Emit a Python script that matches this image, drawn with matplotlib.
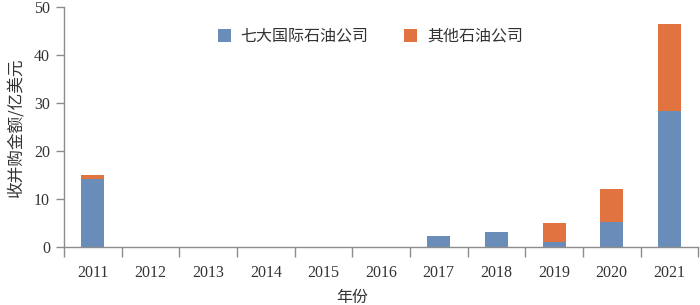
import numpy as np
import matplotlib.pyplot as plt

plt.rcParams['font.family'] = ['Liberation Serif', 'Noto Sans CJK SC', 'DejaVu Sans']

# Data
years = ['2011', '2012', '2013', '2014', '2015', '2016', '2017', '2018', '2019', '2020', '2021']
big7 = [14.1, 0, 0, 0, 0, 0, 2.3, 3.0, 0.9, 5.1, 28.3]
others = [0.8, 0, 0, 0, 0, 0, 0, 0, 4.0, 6.9, 18.2]
series_names = ['七大国际石油公司', '其他石油公司']

blue = '#6a8cb8'
orange = '#e0733f'
axis_col = '#8c8c8c'
text_col = '#333333'

fig = plt.figure(figsize=(7, 3.05), dpi=100)
ax = fig.add_axes([0.0914, 0.191, 0.906, 0.785])

x = np.arange(len(years))
ax.bar(x, big7, width=0.4, color=blue, label=series_names[0])
ax.bar(x, others, width=0.4, bottom=big7, color=orange, label=series_names[1])

ax.set_xlim(-0.5, len(years) - 0.5)
ax.set_ylim(0, 50)
ax.set_yticks([0, 10, 20, 30, 40, 50])

# tick labels at centres, tick marks at boundaries
ax.set_xticks(x)
ax.set_xticklabels(years)
ax.set_xticks(np.arange(len(years) + 1) - 0.5, minor=True)
ax.tick_params(axis='x', which='major', length=0, pad=13, labelsize=11.5, labelcolor=text_col)
ax.tick_params(axis='x', which='minor', length=7, color=axis_col, width=1)
ax.tick_params(axis='y', length=6, color=axis_col, width=1, labelsize=11.5, labelcolor=text_col, pad=4)

for s in ['top', 'right']:
    ax.spines[s].set_visible(False)
for s in ['left', 'bottom']:
    ax.spines[s].set_color(axis_col)
    ax.spines[s].set_linewidth(1)

ax.set_ylabel('收并购金额/亿美元', fontsize=12, color=text_col, family=['Noto Sans CJK SC'], labelpad=7)
ax.set_xlabel('年份', fontsize=11.5, color=text_col, family=['Noto Sans CJK SC'])
ax.xaxis.set_label_coords(0.454, -0.175)

leg = ax.legend(loc='upper center', bbox_to_anchor=(0.483, 0.975), ncol=2, frameon=False,
                handlelength=0.85, handleheight=0.85, columnspacing=2.2, handletextpad=0.6,
                prop={'family': 'Noto Sans CJK SC', 'size': 11.5})
for t in leg.get_texts():
    t.set_color(text_col)

fig.savefig('out.png', dpi=100)
